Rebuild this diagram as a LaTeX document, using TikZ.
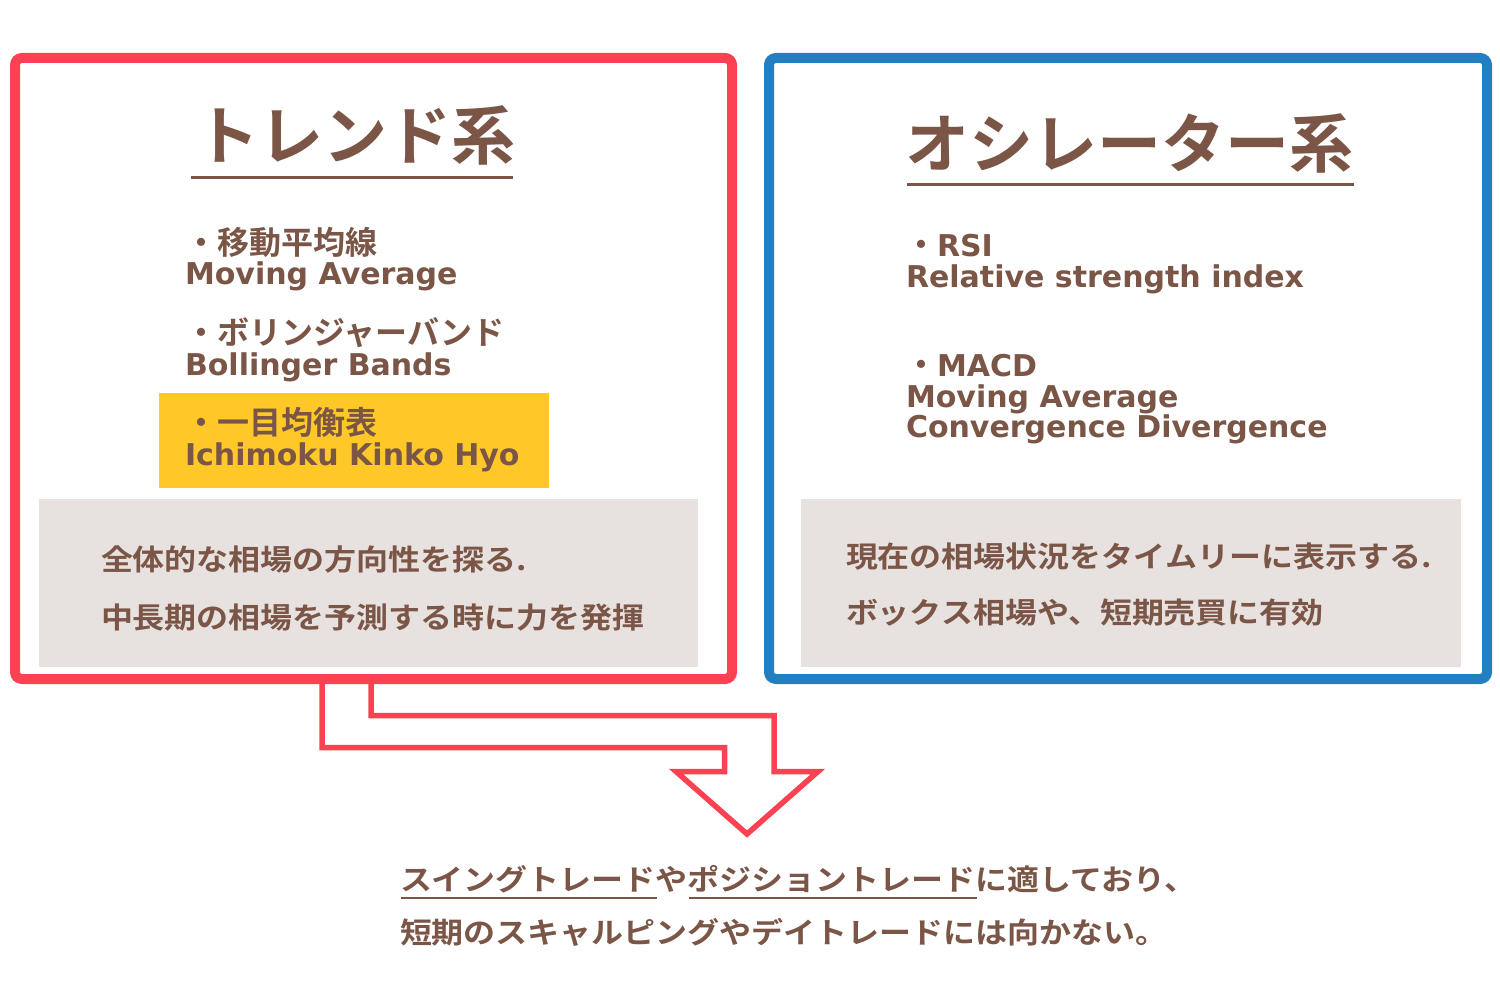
\documentclass[tikz,border=0pt]{standalone}
\usepackage{fontspec}
\newfontfamily\jp{Noto Sans CJK JP Bold}
\newfontfamily\jpw{Noto Sans CJK JP Bold}[FakeStretch=1.103]
\newfontfamily\lat{DejaVu Sans Bold}
\definecolor{brn}{HTML}{7B5647}
\definecolor{rd}{HTML}{FC4153}
\definecolor{bl}{HTML}{217FC2}
\definecolor{gry}{HTML}{E7E2E0}
\definecolor{ylw}{HTML}{FEC928}
\begin{document}
\begin{tikzpicture}[x=1pt,y=-1pt,
  txt/.style={anchor=base west, inner sep=0pt, outer sep=0pt, text=brn},
  titletxt/.style={txt, font=\jp\fontsize{64}{64}\selectfont},
  itemjp/.style={txt, font=\jp\fontsize{32}{32}\selectfont},
  itemla/.style={txt, font=\lat\fontsize{30}{30}\selectfont},
  notetxt/.style={txt, font=\jpw\fontsize{29}{29}\selectfont},
  panel/.style={anchor=north west, inner sep=0pt, outer sep=0pt, draw=none},
  framebox/.style={line width=10pt, rounded corners=7pt},
  uline/.style={brn, line width=3pt},
  thinuline/.style={brn, line width=2pt},
  arrowline/.style={rd, line width=5.5pt, line join=miter}
]
\useasboundingbox (0,0) rectangle (1500,1000);
\fill[white] (0,0) rectangle (1500,1000);

% panels
\node[panel, fill=ylw, minimum width=390pt, minimum height=95pt] (yl) at (159,393) {};
\node[panel, fill=gry, minimum width=659pt, minimum height=168pt] (gl) at (39,499) {};
\node[panel, fill=gry, minimum width=660pt, minimum height=168pt] (gr) at (801,499) {};

% bent arrow
\draw[arrowline] (322,679) -- (322,747.5) -- (724.5,747.5) -- (724.5,771.5) -- (676,771.5)
  -- (747,834) -- (818,771.5) -- (774,771.5) -- (774,715.5) -- (371,715.5) -- (371,679);

% frames
\draw[framebox, rd] (15,58) rectangle (732,679);
\draw[framebox, bl] (769,58) rectangle (1487,679);

% titles
\node[titletxt] (t1) at (195,160) {トレンド系};
\draw[uline] (191,177.5) -- (513,177.5);
\node[titletxt] (t2) at (905,168) {オシレーター系};
\draw[uline] (907,185) -- (1354,185);

% left items
\node[itemjp] (a1) at (185,255) {・移動平均線};
\node[itemla] (a1e) at (185,285) {Moving Average};
\node[itemjp] (a2) at (185,345) {・ボリンジャーバンド};
\node[itemla] (a2e) at (185,375) {Bollinger Bands};
\node[itemjp] (a3) at (185,435) {・一目均衡表};
\node[itemla] (a3e) at (185,465) {Ichimoku Kinko Hyo};

% right items
\node[itemjp] (b1) at (905,257) {・{\lat\fontsize{30}{30}\selectfont RSI}};
\node[itemla] (b1e) at (906,288) {Relative strength index};
\node[itemjp] (b2) at (905,377) {・{\lat\fontsize{30}{30}\selectfont MACD}};
\node[itemla] (b2e) at (906,407) {Moving Average};
\node[itemla] (b2f) at (906,437) {Convergence Divergence};

% notes
\node[notetxt] (n1) at (101,570) {全体的な相場の方向性を探る.};
\node[notetxt] (n2) at (101,628) {中長期の相場を予測する時に力を発揮};
\node[notetxt] (n3) at (846,567) {現在の相場状況をタイムリーに表示する.};
\node[notetxt] (n4) at (846,623) {ボックス相場や、短期売買に有効};

% conclusion
\node[notetxt] (c1) at (400,890) {スイングトレードやポジショントレードに適しており、};
\node[notetxt] (c2) at (400,943) {短期のスキャルピングやデイトレードには向かない。};
\draw[thinuline] (401,897.5) -- (657,897.5);
\draw[thinuline] (689,897.5) -- (977,897.5);
\end{tikzpicture}
\end{document}
